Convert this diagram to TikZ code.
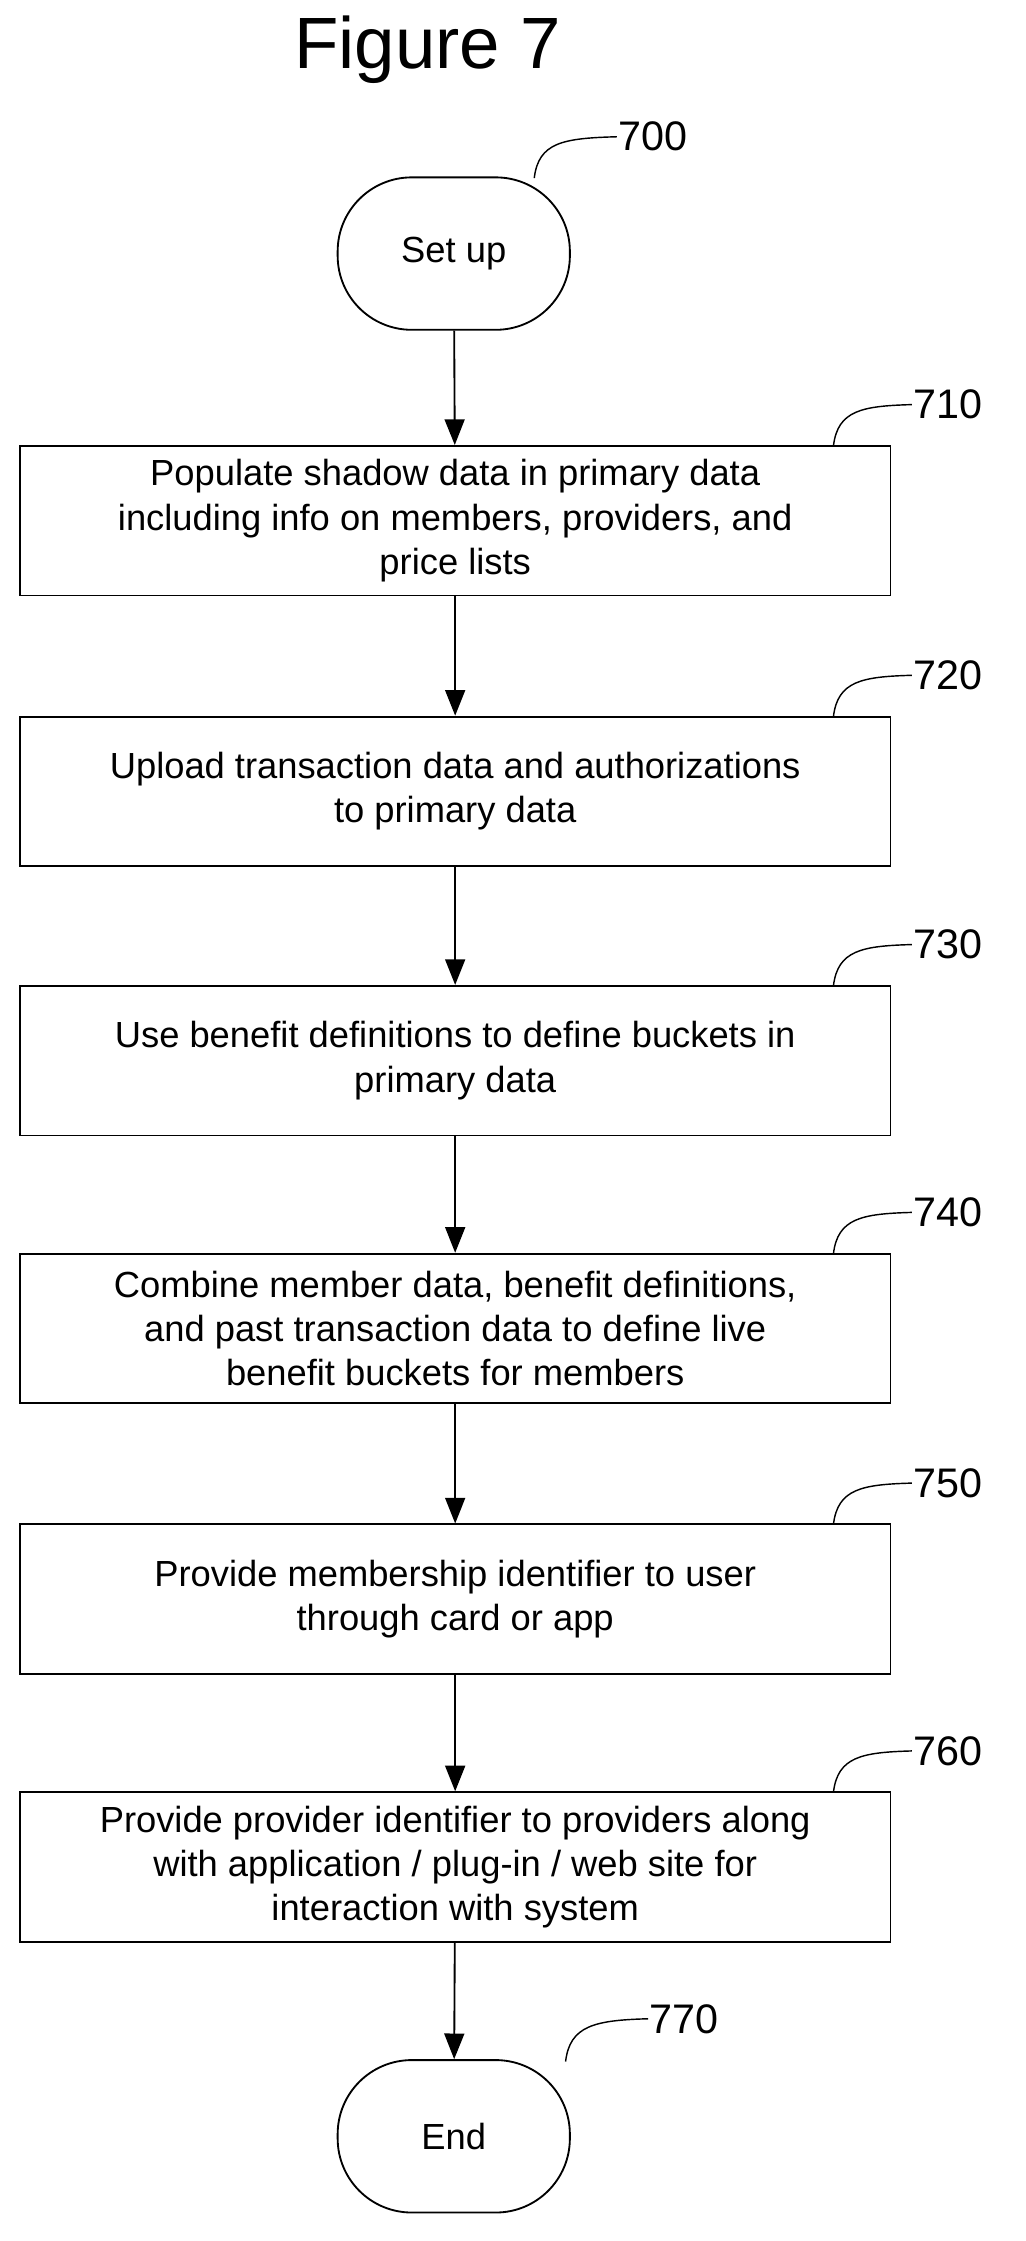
\documentclass[tikz,border=0pt]{standalone}
\usepackage{fontspec}
\setmainfont{Liberation Sans}
\usetikzlibrary{arrows.meta}
\begin{document}
\begin{tikzpicture}[x=1pt,y=-1pt,
 box/.style={draw,line width=1.3pt,minimum width=611pt,minimum height=105pt,align=center,font=\fontsize{25.5}{31}\selectfont,inner sep=2pt},
 term/.style={draw,line width=1.3pt,rounded corners=52pt,minimum width=163pt,minimum height=107pt,font=\fontsize{25.5}{31}\selectfont},
 arr/.style={line width=1.3pt,-{Triangle[length=18pt,width=14pt]}},
 lead/.style={line width=1pt},
 lab/.style={anchor=west,font=\fontsize{29}{30}\selectfont,inner sep=1pt}]
\useasboundingbox (0,0) rectangle (720,1573);
\node[font=\fontsize{51}{56}\selectfont] (title) at (300,35) {Figure 7};
\node[term] (s) at (318.5,178) {Set up};
\node[box] (b1) at (319.5,365.5) {Populate shadow data in primary data\\including info on members, providers, and\\price lists};
\node[box] (b2) at (319.5,555.5) {Upload transaction data and authorizations\\to primary data};
\node[box] (b3) at (319.5,744.5) {Use benefit definitions to define buckets in\\primary data};
\node[box] (b4) at (319.5,932.5) {Combine member data, benefit definitions,\\and past transaction data to define live\\benefit buckets for members};
\node[box] (b5) at (319.5,1122.5) {Provide membership identifier to user\\through card or app};
\node[box] (b6) at (319.5,1310.5) {Provide provider identifier to providers along\\with application / plug-in / web site for\\interaction with system};
\node[term] (e) at (318.5,1499.5) {End};
\foreach \a/\b in {s/b1,b1/b2,b2/b3,b3/b4,b4/b5,b5/b6,b6/e} \draw[arr] (\a) -- (\b);
\coordinate (c0) at (375,125);
\draw[lead] (c0) .. controls (378,100) and (395,97) .. (433,96);
\node[lab] (l0) at (433,96) {700};
\foreach \n/\y/\t in {b1/313/710,b2/503/720,b3/692/730,b4/880/740,b5/1070/750,b6/1258/760}{
 \coordinate (c\t) at (585,\y);
 \draw[lead] (c\t) .. controls (588,\y-25) and (605,\y-28) .. (640,\y-29);
 \node[lab] (l\t) at (640,\y-29) {\t};
}
\coordinate (c7) at (397,1447);
\draw[lead] (c7) .. controls (400,1422) and (417,1418) .. (455,1417);
\node[lab] (l7) at (455,1417) {770};
\end{tikzpicture}
\end{document}
